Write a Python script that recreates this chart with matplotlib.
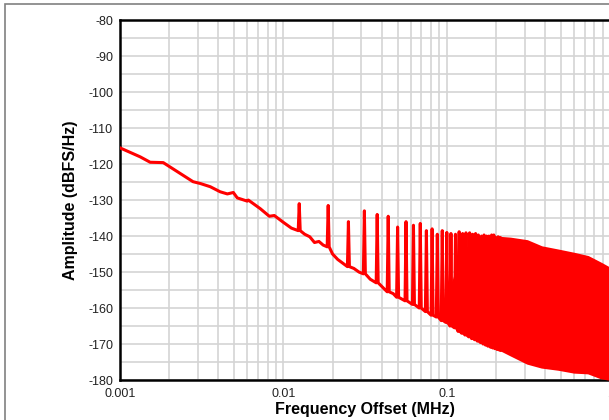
import matplotlib
matplotlib.use("Agg")
import matplotlib.pyplot as plt
import numpy as np
from matplotlib.ticker import LogLocator, FixedLocator, NullFormatter
from matplotlib.patches import Rectangle

plt.rcParams['font.family'] = ['Liberation Sans', 'DejaVu Sans']
plt.rcParams['axes.unicode_minus'] = False

# noise floor (MHz, dBFS/Hz)
floor_f = [0.001, 0.00133, 0.00153, 0.00184, 0.00224, 0.0028, 0.0031, 0.00357,
           0.0041, 0.00454, 0.00494, 0.00522, 0.00601, 0.0061, 0.00722, 0.0082,
           0.0088, 0.01, 0.0112, 0.0135, 0.0145, 0.0155, 0.0165, 0.0175, 0.02,
           0.0215, 0.023, 0.027, 0.029, 0.034, 0.041, 0.047]
floor_db = [-115.5, -118.0, -119.5, -119.6, -122.1, -124.9, -125.4, -126.3,
            -127.7, -128.3, -127.9, -129.4, -130.3, -130.0, -132.4, -134.5,
            -134.3, -136.2, -137.8, -139.5, -140.2, -141.8, -141.5, -142.5, -145.0,
            -146.5, -147.5, -149.0, -150.0, -152.0, -154.5, -156.0]

# individual spurs
spike_f = [0.0125, 0.0188, 0.025, 0.0313, 0.0375, 0.0438, 0.05, 0.0563, 0.0625,
           0.0688, 0.075, 0.0813, 0.0875, 0.0938, 0.1, 0.106, 0.113, 0.119, 0.125,
           0.131, 0.138, 0.144, 0.15, 0.156, 0.163, 0.169, 0.175, 0.181, 0.188,
           0.194, 0.2, 0.206, 0.213]
spike_db = [-131.0, -131.5, -136.0, -133.0, -134.0, -134.5, -137.5, -136.0, -137.0,
            -136.5, -138.5, -138.0, -139.5, -138.5, -139.0, -139.3, -139.5, -138.8, -139.3,
            -139.1, -139.1, -139.5, -139.3, -139.7, -140.0, -139.7, -140.0, -140.0, -139.7,
            -139.7, -140.5, -140.2, -140.4]
spike_base = [-138.5, -143.0, -148.5, -150.5, -153.0, -155.5, -157.0, -158.0, -159.0,
              -160.0, -161.0, -162.0, -162.5, -163.5, -164.0, -165.0, -165.5, -166.5, -167.0,
              -167.5, -168.0, -168.5, -168.8, -169.2, -169.6, -170.0, -170.3, -170.6, -170.9,
              -171.1, -171.3, -171.5, -171.7]

# dense spur region: envelope top / bottom
band_f = [0.1, 0.11, 0.12, 0.15, 0.2, 0.215, 0.245, 0.31, 0.38, 0.48, 0.6, 0.73, 0.88, 1.0]
band_top = [-160.0, -152.0, -146.5, -145.5, -143.0, -140.4, -140.6, -141.3, -143.0,
            -143.9, -144.8, -145.7, -147.6, -149.0]
band_bot = [-164.0, -165.0, -166.5, -168.8, -171.3, -171.7, -173.0, -175.3, -176.4,
            -177.0, -177.8, -178.0, -179.4, -179.8]

yticks = [-80, -90, -100, -110, -120, -130, -140, -150, -160, -170, -180]
xticks = [0.001, 0.01, 0.1, 1]
xtick_labels = ['0.001', '0.01', '0.1', '1']

# build line: floor points + spur triangles
pts = list(zip(floor_f, floor_db))
w = 0.014
for f, p, b in zip(spike_f, spike_db, spike_base):
    pts += [(f * (1 - w), b), (f, p), (f * (1 + w), b)]
pts.sort(key=lambda t: t[0])
line_f = [p[0] for p in pts]
line_db = [p[1] for p in pts]

fig = plt.figure(figsize=(6.09, 4.20), dpi=100)
ax = fig.add_axes([0.197, 0.0952, 0.805, 0.857])

red = '#ff0000'
ax.plot(line_f, line_db, color=red, lw=2.2, solid_joinstyle='round', zorder=3)
ax.fill_between(band_f, band_bot, band_top, facecolor=red, edgecolor=red, lw=1.5, zorder=3)

ax.set_xscale('log')
ax.set_xlim(0.001, 1)
ax.set_ylim(-180, -80)
ax.set_xticks(xticks)
ax.set_xticklabels(xtick_labels)
ax.xaxis.set_minor_locator(LogLocator(base=10, subs=np.arange(2, 10)))
ax.xaxis.set_minor_formatter(NullFormatter())
ax.set_yticks(yticks)
ax.yaxis.set_minor_locator(FixedLocator(np.arange(-175, -80, 10)))

ax.grid(True, which='both', color='#d4d4d4', lw=1.2)
ax.set_axisbelow(True)
ax.tick_params(which='both', length=0, labelsize=9, colors='#222222')
ax.tick_params(axis='y', pad=5)
ax.tick_params(axis='x', pad=6)

for s in ax.spines.values():
    s.set_linewidth(1.8)
    s.set_color('black')

ax.set_xlabel('Frequency Offset (MHz)', fontsize=11.5, fontweight='bold', labelpad=1)
ax.set_ylabel('Amplitude (dBFS/Hz)', fontsize=11.5, fontweight='bold', labelpad=7)

fig.patches.append(Rectangle((5 / 609, -1), 2, 1 + (1 - 4 / 420), transform=fig.transFigure,
                             fill=False, edgecolor='#808080', lw=1.2))

fig.savefig('out.png', dpi=100)
